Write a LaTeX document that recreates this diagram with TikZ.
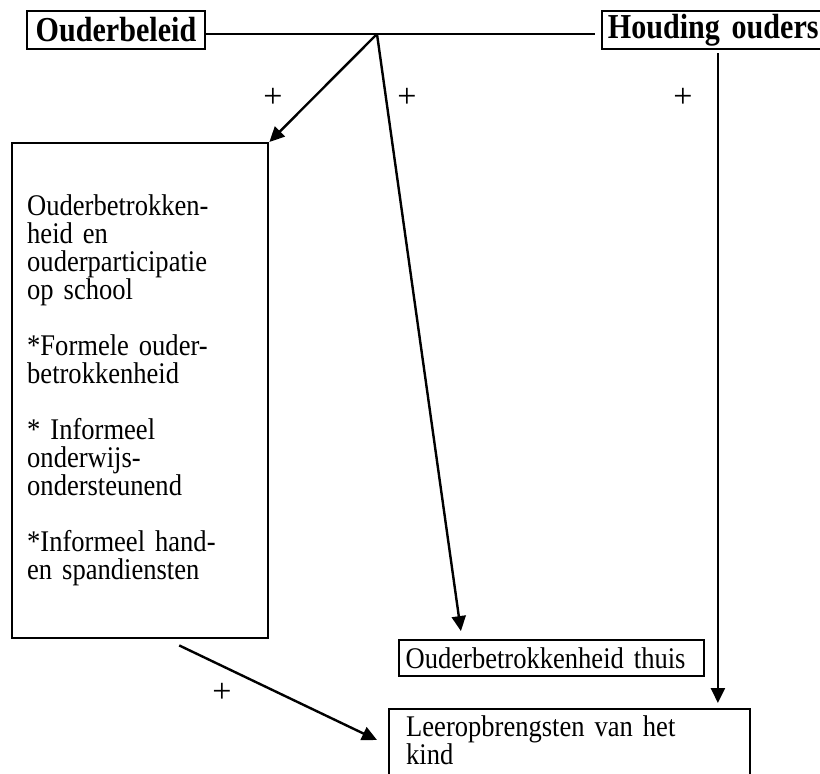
\documentclass[tikz,border=0pt]{standalone}
\usepackage{fontspec}
\setmainfont{Liberation Serif}[FakeStretch=0.885]
\newfontfamily\headfont{Liberation Serif}[FakeStretch=0.86]
\newfontfamily\plusfont{Liberation Serif}
\usepackage{tikz}
\usetikzlibrary{arrows.meta,positioning}
\tikzstyle{head} = [rectangle, draw, line width=2.4pt, inner sep=0pt,
    minimum height=38pt, font=\headfont\bfseries\fontsize{35}{38}\selectfont]
\tikzstyle{block} = [rectangle, draw, line width=2.4pt, align=left,
    font=\fontsize{30}{28}\selectfont]
\tikzstyle{link} = [line width=2.4pt, -{Triangle[length=15pt,width=14pt]}]
\tikzstyle{plus} = [font=\plusfont\fontsize{34}{34}\selectfont]

\begin{document}
\begin{tikzpicture}[x=1pt, y=-1pt]
  \useasboundingbox (0,0) rectangle (820,774);
  % Place nodes
  \node [head, minimum width=178pt] (beleid) at (116,30) {Ouderbeleid};
  \node [head, anchor=west, inner xsep=6pt, text width=220pt, align=left] (houding) at (600.7,30) {Houding ouders};
  \coordinate (junc) at (377,34);
  \node [block, anchor=north west, inner xsep=15pt, text width=226pt, minimum height=495pt] (box1) at (11,142)
  {Ouderbetrokken-\\ heid en\\ ouderparticipatie\\ op school\\[28pt]
   *Formele ouder-\\ betrokkenheid\\[28pt]
   * Informeel\\ onderwijs-\\ ondersteunend\\[28pt]
   *Informeel hand-\\ en spandiensten};
  \node [block, anchor=north west, inner xsep=6.5pt, inner ysep=0pt, text width=292pt, minimum height=36pt] (thuis) at (398,639)
  {Ouderbetrokkenheid thuis};
  \node [block, anchor=north west, inner xsep=17pt, inner ysep=6pt, text width=327pt] (leer) at (388,708)
  {Leeropbrengsten van het\\ kind\rule[-40pt]{0pt}{40pt}};
  % Place signs
  \node [plus] (plusa) at (273,98) {+};
  \node [plus] (plusb) at (407,98) {+};
  \node [plus] (plusc) at (683,98) {+};
  \node [plus] (plusd) at (222,693) {+};
  % Draw edges
  \draw [line width=2.4pt, shorten >=6pt] (beleid.east |- junc) -- (houding.west |- junc);
  \draw [link] (junc) -- (box1.north east);
  \draw [link, shorten >=8pt] (junc) -- ([xshift=64pt]thuis.north west);
  \draw [link, shorten >=5pt, shorten <=3pt] (houding.south) -- (houding.south |- leer.north);
  \draw [link] ([xshift=39pt,yshift=-6pt]box1.south) -- ([xshift=-11pt,yshift=-32pt]leer.north west);
\end{tikzpicture}
\end{document}
